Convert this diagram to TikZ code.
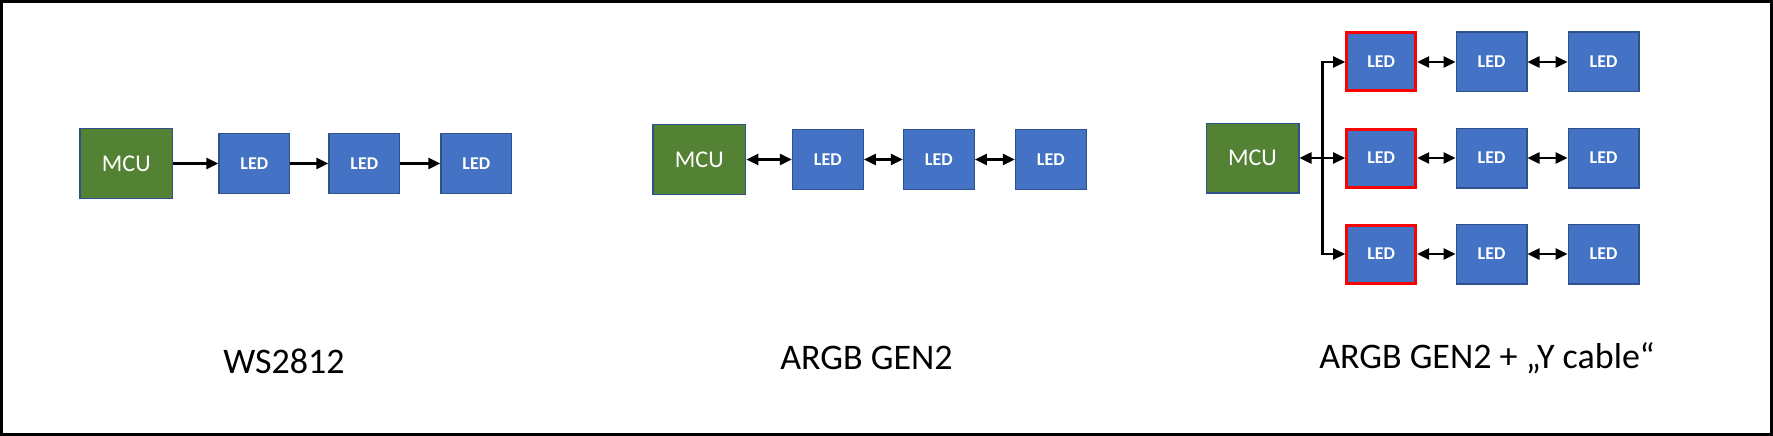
\documentclass[tikz,border=0pt]{standalone}
\usepackage{fontspec}
\setmainfont{Carlito}
\usepackage{xcolor}
\usetikzlibrary{positioning,arrows.meta,calc}
\definecolor{mcugreen}{HTML}{548235}
\definecolor{ledblue}{HTML}{4472C4}
\definecolor{edgeblue}{HTML}{2F528F}
\definecolor{yred}{HTML}{FF0000}
\tikzset{
    mcu/.style={rectangle, draw=edgeblue, fill=mcugreen, line width=1.3pt, minimum width=92.7pt, minimum height=69.7pt, inner sep=0pt, text=white, font=\fontsize{24}{28}\selectfont},
    led/.style={rectangle, draw=edgeblue, fill=ledblue, line width=1.3pt, minimum width=70.7pt, minimum height=59.7pt, inner sep=0pt, text=white, font=\fontsize{18}{22}\selectfont\bfseries},
    firstled/.style={led, draw=yred, line width=3pt, minimum width=69pt, minimum height=58pt},
    line/.style={draw, line width=2.5pt, -{Triangle[length=12pt,width=11pt]}},
    biline/.style={draw, line width=2.5pt, {Triangle[length=12pt,width=11pt]}-{Triangle[length=12pt,width=11pt]}},
    caption/.style={anchor=base, font=\fontsize{36}{40}\selectfont}
}

\begin{document}
\begin{tikzpicture}[x=1pt, y=-1pt]
    \useasboundingbox (0,0) rectangle (1773,436);
    % Frame
    \draw [line width=3pt] (1.5,1.5) rectangle (1771.5,434.5);

    % WS2812
    \node [mcu] (mcuA) at (126.3,163.5) {MCU};
    \node [led, right=45pt of mcuA] (ledA1) {LED};
    \node [led, right=38pt of ledA1] (ledA2) {LED};
    \node [led, right=40pt of ledA2] (ledA3) {LED};
    \path [line] (mcuA) -- (ledA1);
    \path [line] (ledA1) -- (ledA2);
    \path [line] (ledA2) -- (ledA3);

    % ARGB GEN2
    \node [mcu] (mcuB) at (699.3,159.5) {MCU};
    \node [led, right=45.5pt of mcuB] (ledB1) {LED};
    \node [led, right=39pt of ledB1] (ledB2) {LED};
    \node [led, right=40pt of ledB2] (ledB3) {LED};
    \path [biline] (mcuB) -- (ledB1);
    \path [biline] (ledB1) -- (ledB2);
    \path [biline] (ledB2) -- (ledB3);

    % ARGB GEN2 with Y cable
    \node [mcu] (mcuC) at (1252.5,158) {MCU};
    \node [firstled, right=45.7pt of mcuC] (ledCm1) {LED};
    \node [firstled, above=35pt of ledCm1] (ledCt1) {LED};
    \node [firstled, below=35pt of ledCm1] (ledCb1) {LED};
    \foreach \row in {t,m,b} {
        \node [led, right=38.3pt of ledC\row1] (ledC\row2) {LED};
        \node [led, right=40pt of ledC\row2] (ledC\row3) {LED};
        \path [biline] (ledC\row1) -- (ledC\row2);
        \path [biline] (ledC\row2) -- (ledC\row3);
    }
    \coordinate (split) at ($(mcuC.east)!.5!(ledCm1.west)$);
    \path [biline] (mcuC) -- (ledCm1);
    \path [line] (split) |- (ledCt1);
    \path [line] (split) |- (ledCb1);

    % Captions
    \node [caption] (capA) at (284,373) {WS2812};
    \node [caption] (capB) at (866.5,369) {ARGB GEN2};
    \node [caption] (capC) at (1487,368) {ARGB GEN2 + „Y cable“};
\end{tikzpicture}
\end{document}
